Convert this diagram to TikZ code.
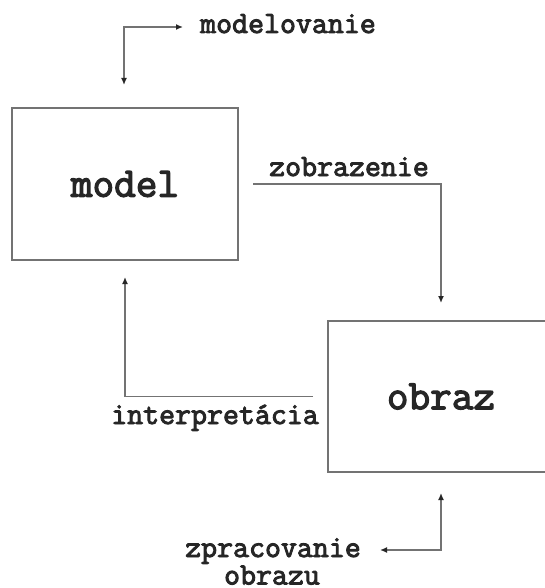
\documentclass[tikz,border=0pt]{standalone}
\usepackage{fontspec}
\setmonofont{Latin Modern Mono}[AutoFakeBold=3]
\usetikzlibrary{arrows.meta}
\tikzset{
  box/.style={draw=black!55, line width=1.4pt, inner sep=0pt, outer sep=0pt,
              font=\ttfamily\bfseries\fontsize{42}{42}\selectfont, text=black!85},
  lbl/.style={inner sep=0pt, anchor=base, font=\ttfamily\bfseries\fontsize{31}{31}\selectfont, text=black!85},
  arr/.style={draw=black!55, line width=1.4pt, -{Latex[length=7pt,width=6pt,color=black!85]}},
  darr/.style={draw=black!55, line width=1.4pt, {Latex[length=7pt,width=6pt,color=black!85]}-{Latex[length=7pt,width=6pt,color=black!85]}}
}
\begin{document}
\begin{tikzpicture}[x=1pt,y=-1pt]
\useasboundingbox (0,0) rectangle (545,588);
\clip (0,0) rectangle (545,588);
\node[box, minimum width=226pt, minimum height=152pt] (model) at (125,184) {model};
\node[box, minimum width=226pt, minimum height=151pt] (obraz) at (441,396.5) {obraz};
\node[lbl] (modelovanie) at (288,33) {modelovanie};
\node[lbl] (zobrazenie) at (349,176) {zobrazenie};
\node[lbl] (interpretacia) at (215,424) {interpretácia};
\node[lbl] (zpracovanie) at (273,557) {zpracovanie};
\node[lbl] (obrazu) at (272,584.5) {obrazu};
\coordinate (mtop) at (124,85);
\coordinate (mright) at (183,27);
\draw[darr] (mtop) |- (mright);
\draw[arr, shorten <=15pt, shorten >=18pt] (model.east) -| (obraz.north);
\draw[arr, shorten <=15pt, shorten >=17pt] (obraz.west) -| (model.south);
\coordinate (zleft) at (380,550);
\draw[darr, shorten <=21pt] (obraz.south) |- (zleft);
\end{tikzpicture}
\end{document}
